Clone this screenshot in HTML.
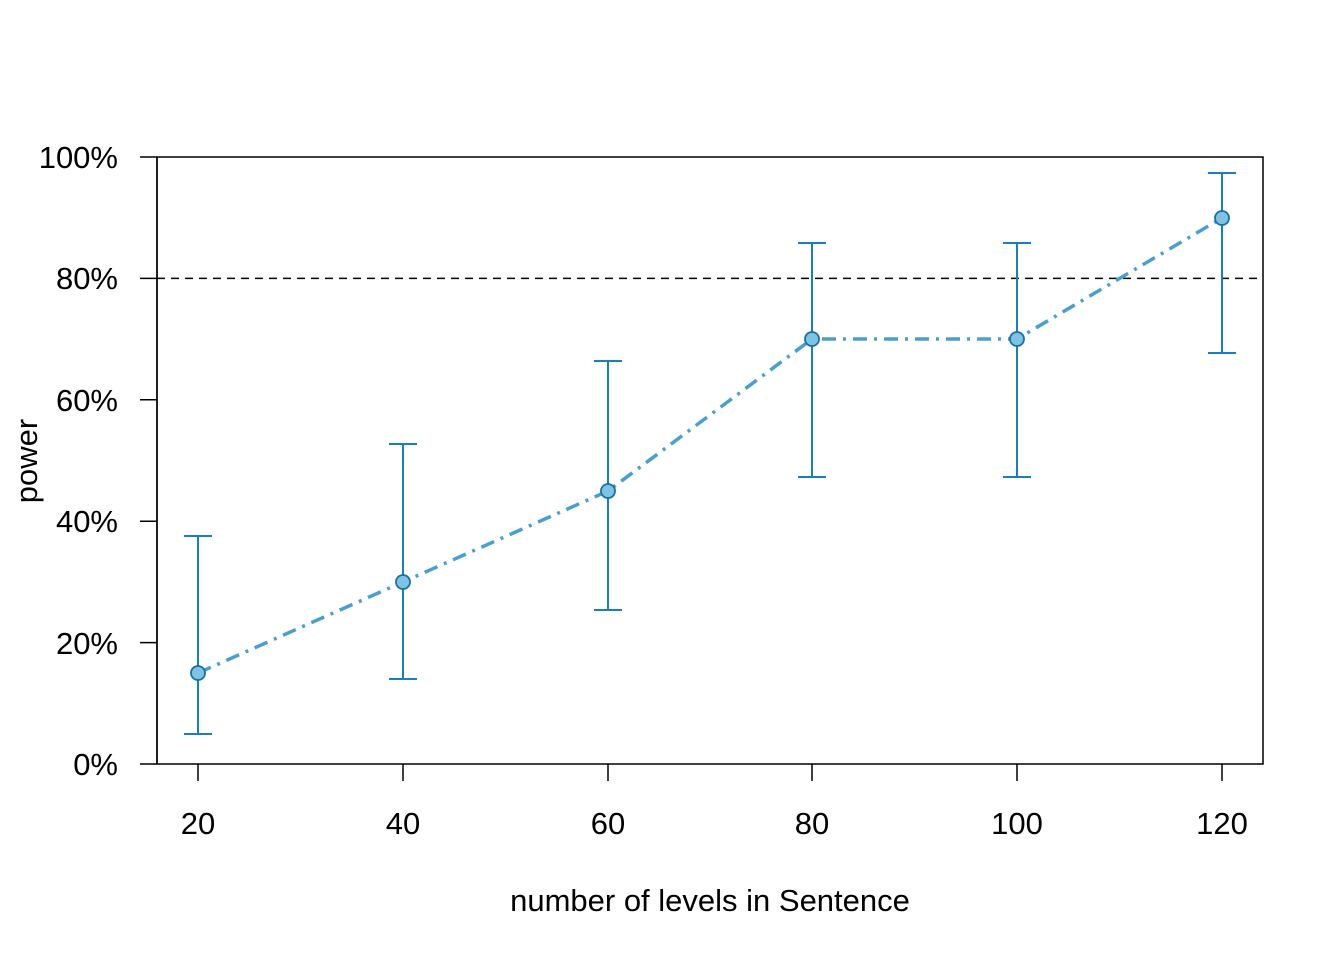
<!DOCTYPE html>
<html><head><style>body{margin:0;background:#fff}</style></head><body>
<svg width="1344" height="960" xmlns="http://www.w3.org/2000/svg" font-family="Liberation Sans, Arial, sans-serif">
<rect width="1344" height="960" fill="#fff"/>
<rect x="157" y="157" width="1106" height="607" fill="none" stroke="#000" stroke-width="1.5"/>
<g stroke="#000" stroke-width="1.5">
<line x1="157" y1="157" x2="157" y2="764"/>
<line x1="140" y1="764" x2="157" y2="764"/><line x1="140" y1="642.6" x2="157" y2="642.6"/>
<line x1="140" y1="521.2" x2="157" y2="521.2"/><line x1="140" y1="399.8" x2="157" y2="399.8"/>
<line x1="140" y1="278.4" x2="157" y2="278.4"/><line x1="140" y1="157" x2="157" y2="157"/>
<line x1="198" y1="764" x2="198" y2="781"/><line x1="403" y1="764" x2="403" y2="781"/>
<line x1="608" y1="764" x2="608" y2="781"/><line x1="812" y1="764" x2="812" y2="781"/>
<line x1="1017" y1="764" x2="1017" y2="781"/><line x1="1222" y1="764" x2="1222" y2="781"/>
</g>
<g font-size="31" text-anchor="end" fill="#000">
<text x="118" y="775">0%</text><text x="118" y="654">20%</text><text x="118" y="532">40%</text>
<text x="118" y="411">60%</text><text x="118" y="289">80%</text><text x="118" y="168">100%</text>
</g>
<g font-size="31" text-anchor="middle" fill="#000">
<text x="198" y="834">20</text><text x="403" y="834">40</text><text x="608" y="834">60</text>
<text x="812" y="834">80</text><text x="1017" y="834">100</text><text x="1222" y="834">120</text>
<text x="710" y="911">number of levels in Sentence</text>
<text transform="translate(37,461) rotate(-90)">power</text>
</g>
<line x1="157" y1="278.4" x2="1263" y2="278.4" stroke="#000" stroke-width="1.5" stroke-dasharray="8,6"/>
<g stroke="#1a7fc0" stroke-width="2" fill="none">
<path d="M198 734V536M184 734H212M184 536H212"/>
<path d="M403 679V444M389 679H417M389 444H417"/>
<path d="M608 610V361M594 610H622M594 361H622"/>
<path d="M812 477V243M798 477H826M798 243H826"/>
<path d="M1017 477V243M1003 477H1031M1003 243H1031"/>
<path d="M1222 353V173M1208 353H1236M1208 173H1236"/>
</g>
<polyline points="198,673 403,582 608,491 812,339 1017,339 1222,218" fill="none" stroke="#4a9fd0" stroke-width="3.5" stroke-dasharray="14,7,3,7"/>
<g fill="#7ec4e2" stroke="#1a6fa8" stroke-width="1.8">
<circle cx="198" cy="673" r="7"/><circle cx="403" cy="582" r="7"/><circle cx="608" cy="491" r="7"/>
<circle cx="812" cy="339" r="7"/><circle cx="1017" cy="339" r="7"/><circle cx="1222" cy="218" r="7"/>
</g>
</svg>
</body></html>
